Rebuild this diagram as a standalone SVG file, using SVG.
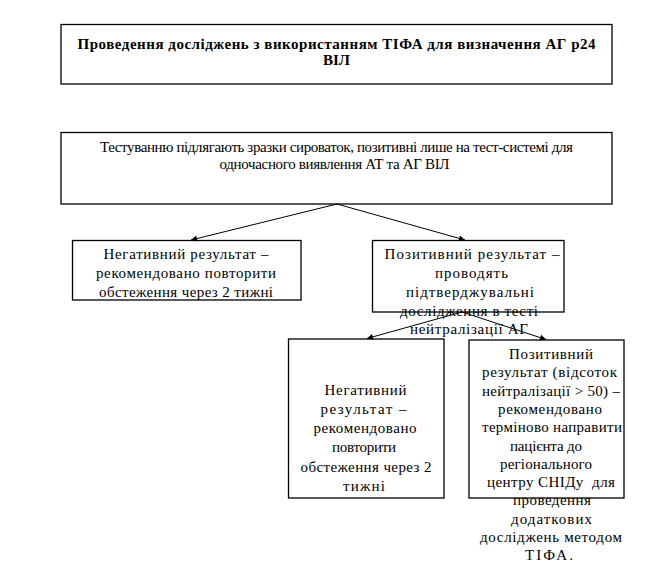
<svg xmlns="http://www.w3.org/2000/svg" width="661" height="562" viewBox="0 0 661 562">
<defs>
<style>
.box{fill:#fff;stroke:#000;stroke-width:1.3}
.t{font-family:'Liberation Serif','DejaVu Serif','Times New Roman',serif;font-size:15px;fill:#000;text-anchor:middle;white-space:pre}
.b{font-weight:bold}
.c{stroke:#000;stroke-width:1;fill:none;marker-end:url(#ah)}
</style>
<marker id="ah" viewBox="0 0 10 10" refX="10" refY="5" markerWidth="8" markerHeight="6" markerUnits="userSpaceOnUse" orient="auto">
<path d="M0,0 L10,5 L0,10 z" fill="#000"/>
</marker>
</defs>
<rect width="661" height="562" fill="#fff"/>
<g id="n1">
<rect class="box" x="61" y="24.5" width="551" height="59.5"/>
<text class="t b" x="336.5" y="49" textLength="518" lengthAdjust="spacing">Проведення досліджень з використанням ТІФА для визначення АГ р24</text>
<text class="t b" x="336.5" y="65">ВІЛ</text>
</g>
<g id="n2">
<rect class="box" x="61" y="132.5" width="551" height="71.5"/>
<text class="t" x="336.5" y="152" textLength="473" lengthAdjust="spacing">Тестуванню підлягають зразки сироваток, позитивні лише на тест-системі для</text>
<text class="t" x="334.5" y="169" textLength="230" lengthAdjust="spacing">одночасного виявлення АТ та АГ ВІЛ</text>
</g>
<g id="n3">
<rect class="box" x="72.5" y="240.5" width="228.5" height="59.5"/>
<text class="t" x="186" y="259" textLength="165" lengthAdjust="spacing">Негативний результат –</text>
<text class="t" x="186" y="278" textLength="180" lengthAdjust="spacing">рекомендовано повторити</text>
<text class="t" x="186" y="297" textLength="174" lengthAdjust="spacing">обстеження через 2 тижні</text>
</g>
<g id="n4">
<rect class="box" x="372.5" y="240.5" width="191.5" height="71.5"/>
<text class="t" x="472" y="259" textLength="175" lengthAdjust="spacing">Позитивний результат –</text>
<text class="t" x="471.5" y="278" textLength="73" lengthAdjust="spacing">проводять</text>
<text class="t" x="470" y="297" textLength="128" lengthAdjust="spacing">підтверджувальні</text>
<text class="t" x="469" y="315.5" textLength="138" lengthAdjust="spacing">дослідження в тесті</text>
<text class="t" x="469" y="333.5" textLength="118" lengthAdjust="spacing">нейтралізації АГ</text>
</g>
<g id="n5">
<rect class="box" x="288.5" y="339" width="155.5" height="159"/>
<text class="t" x="365.5" y="394.5" textLength="82" lengthAdjust="spacing">Негативний</text>
<text class="t" x="363.5" y="413.8" textLength="86" lengthAdjust="spacing">результат –</text>
<text class="t" x="365" y="433.1" textLength="103" lengthAdjust="spacing">рекомендовано</text>
<text class="t" x="364" y="452.4" textLength="64" lengthAdjust="spacing">повторити</text>
<text class="t" x="366" y="471.7" textLength="131" lengthAdjust="spacing">обстеження через 2</text>
<text class="t" x="364" y="491" textLength="42" lengthAdjust="spacing">тижні</text>
</g>
<g id="n6">
<rect class="box" x="469" y="340" width="155" height="158"/>
<text class="t" x="551" y="359" textLength="84" lengthAdjust="spacing">Позитивний</text>
<text class="t" x="549.5" y="377.3" textLength="135" lengthAdjust="spacing">результат (відсоток</text>
<text class="t" x="551" y="395.6" textLength="138" lengthAdjust="spacing">нейтралізації &gt; 50) –</text>
<text class="t" x="550" y="413.9" textLength="104" lengthAdjust="spacing">рекомендовано</text>
<text class="t" x="552" y="432.2" textLength="140" lengthAdjust="spacing">терміново направити</text>
<text class="t" x="546" y="450.5" textLength="72" lengthAdjust="spacing">пацієнта до</text>
<text class="t" x="546" y="468.8" textLength="92" lengthAdjust="spacing">регіонального</text>
<text class="t" x="551" y="487.1" textLength="128" lengthAdjust="spacing">центру СНІДу  для</text>
<text class="t" x="552" y="505.4" textLength="78" lengthAdjust="spacing">проведення</text>
<text class="t" x="551.5" y="523.7" textLength="81" lengthAdjust="spacing">додаткових</text>
<text class="t" x="551" y="542" textLength="142" lengthAdjust="spacing">досліджень методом</text>
<text class="t" x="549" y="560.3" textLength="48" lengthAdjust="spacing">ТІФА.</text>
</g>
<g id="connectors">
<line class="c" x1="337" y1="204" x2="191" y2="240"/>
<line class="c" x1="337" y1="204" x2="465" y2="240"/>
<line class="c" x1="462" y1="312" x2="367" y2="338.5"/>
<line class="c" x1="462" y1="312" x2="546" y2="339.5"/>
</g>
</svg>
